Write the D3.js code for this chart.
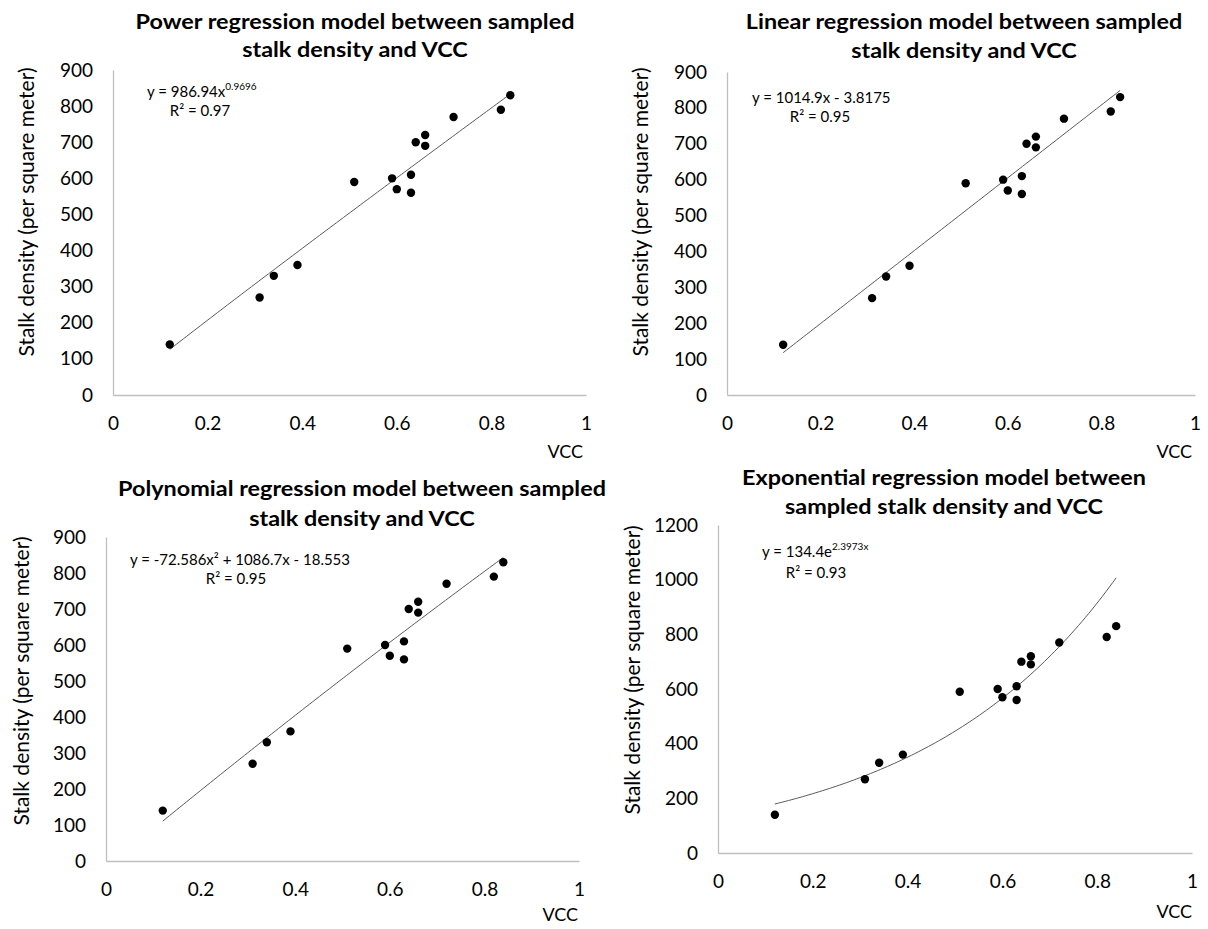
<!DOCTYPE html>
<html>
<head>
<meta charset="utf-8">
<script src="https://cdn.jsdelivr.net/npm/d3@7"></script>
<style>
  body { margin: 0; background: #ffffff; }
  svg text { font-family: Lato, "Open Sans", sans-serif; fill: #000; }
</style>
</head>
<body>
<svg id="chart" width="1208" height="929"></svg>
<script>
// Sampled plots: vegetation canopy cover (VCC) vs. stalk density
const vcc     = [0.12, 0.31, 0.34, 0.39, 0.51, 0.59, 0.60, 0.63, 0.63, 0.64, 0.66, 0.66, 0.72, 0.82, 0.84];
const density = [140,  270,  330,  360,  590,  600,  570,  610,  560,  700,  720,  690,  770,  790,  830];

// Axis ticks
const xTicks      = [0, 0.2, 0.4, 0.6, 0.8, 1];
const yTicks900   = [0, 100, 200, 300, 400, 500, 600, 700, 800, 900];
const yTicks1200  = [0, 200, 400, 600, 800, 1000, 1200];

// Fitted model coefficients
const powerFit  = { a: 986.94, b: 0.9696, r2: "0.97" };              // y = a x^b
const linearFit = { a: 1014.9, b: -3.8175, r2: "0.95" };             // y = a x + b
const polyFit   = { a: -72.586, b: 1086.7, c: -18.553, r2: "0.95" }; // y = a x^2 + b x + c
const expFit    = { a: 134.4, b: 2.3973, r2: "0.93" };               // y = a e^(b x)

// Chart titles
const titlePower  = ["Power regression model between sampled", "stalk density and VCC"];
const titleLinear = ["Linear regression model between sampled", "stalk density and VCC"];
const titlePoly   = ["Polynomial regression model between sampled", "stalk density and VCC"];
const titleExp    = ["Exponential regression model between", "sampled stalk density and VCC"];

const yAxisTitle = "Stalk density (per square meter)";
const xAxisTitle = "VCC";

// Titles are set a little wide, like condensed bold type stretched across the panel
const TITLE_STRETCH = 1.17;

const svg = d3.select("#chart");

// Panel layout: plot area box and placement of the titles and labels
const panels = [
  {
    title: titlePower, yTicks: yTicks900,
    box: { left: 113, right: 586, top: 70, bottom: 395 },
    titleX: 355, titleY: [29, 57],
    yLab: [27, 212], xLab: [583, 458],
    eq: [147, 97], r2: [200, 116],
    model: x => powerFit.a * Math.pow(x, powerFit.b),
    equation: g => {
      g.append("tspan").text("y = 986.94x");
      g.append("tspan").attr("font-size", 10).attr("dy", -7).text("0.9696");
    },
    r2Text: powerFit.r2
  },
  {
    title: titleLinear, yTicks: yTicks900,
    box: { left: 727, right: 1195, top: 72, bottom: 395 },
    titleX: 964, titleY: [29, 58],
    yLab: [641, 212], xLab: [1192, 458],
    eq: [752, 103], r2: [820, 122],
    model: x => linearFit.a * x + linearFit.b,
    equation: g => g.append("tspan").text("y = 1014.9x - 3.8175"),
    r2Text: linearFit.r2
  },
  {
    title: titlePoly, yTicks: yTicks900,
    box: { left: 106, right: 579, top: 537, bottom: 861 },
    titleX: 362, titleY: [496, 526],
    yLab: [22, 681], xLab: [578, 921],
    eq: [130, 565], r2: [236, 584],
    model: x => polyFit.a * x * x + polyFit.b * x + polyFit.c,
    equation: g => g.append("tspan").text("y = -72.586x² + 1086.7x - 18.553"),
    r2Text: polyFit.r2
  },
  {
    title: titleExp, yTicks: yTicks1200,
    box: { left: 718, right: 1192, top: 525, bottom: 853 },
    titleX: 944, titleY: [485, 514],
    yLab: [633, 670], xLab: [1192, 918],
    eq: [762, 557], r2: [816, 578],
    model: x => expFit.a * Math.exp(expFit.b * x),
    equation: g => {
      g.append("tspan").text("y = 134.4e");
      g.append("tspan").attr("font-size", 10).attr("dy", -7).text("2.3973x");
    },
    r2Text: expFit.r2
  }
];

panels.forEach(p => {
  const yMax = d3.max(p.yTicks);
  const x = d3.scaleLinear().domain([0, 1]).range([p.box.left, p.box.right]);
  const y = d3.scaleLinear().domain([0, yMax]).range([p.box.bottom, p.box.top]);
  const g = svg.append("g");

  // Title: two centred bold lines
  p.title.forEach((line, i) => {
    const t = g.append("text")
      .attr("x", p.titleX).attr("y", p.titleY[i])
      .attr("text-anchor", "middle")
      .attr("font-weight", "bold")
      .attr("font-size", 20)
      .text(line);
    const w = t.node().getComputedTextLength();
    t.attr("textLength", w * TITLE_STRETCH).attr("lengthAdjust", "spacingAndGlyphs");
  });

  // Axes: light grey baselines, labels only (no tick marks)
  const xAxis = g.append("g")
    .attr("transform", `translate(0,${p.box.bottom})`)
    .call(d3.axisBottom(x).tickValues(xTicks).tickFormat(d3.format("~g"))
      .tickSize(0).tickSizeOuter(0).tickPadding(22));
  const yAxis = g.append("g")
    .attr("transform", `translate(${p.box.left},0)`)
    .call(d3.axisLeft(y).tickValues(p.yTicks).tickFormat(d3.format("~g"))
      .tickSize(0).tickSizeOuter(0).tickPadding(20));
  [xAxis, yAxis].forEach(a => {
    a.select(".domain").attr("stroke", "#bfbfbf").attr("stroke-width", 1.3);
    a.selectAll("text").attr("font-size", 19).attr("fill", "#000")
      .attr("font-family", "Lato, 'Open Sans', sans-serif");
  });

  // Axis titles
  g.append("text")
    .attr("transform", `translate(${p.yLab[0]},${p.yLab[1]}) rotate(-90)`)
    .attr("text-anchor", "middle")
    .attr("dy", "0.35em")
    .attr("font-size", 21)
    .text(yAxisTitle);
  g.append("text")
    .attr("x", p.xLab[0]).attr("y", p.xLab[1])
    .attr("text-anchor", "end")
    .attr("font-size", 18)
    .text(xAxisTitle);

  // Fitted curve across the sampled VCC range
  const [x0, x1] = d3.extent(vcc);
  const curveX = d3.range(0, 101).map(i => x0 + (x1 - x0) * i / 100);
  g.append("path")
    .datum(curveX)
    .attr("fill", "none")
    .attr("stroke", "#595959")
    .attr("stroke-width", 1)
    .attr("d", d3.line().x(d => x(d)).y(d => y(p.model(d))));

  // Sample points
  g.selectAll("circle")
    .data(d3.zip(vcc, density))
    .join("circle")
    .attr("cx", d => x(d[0]))
    .attr("cy", d => y(d[1]))
    .attr("r", 4.2)
    .attr("fill", "#000");

  // Equation and R²
  const eq = g.append("text")
    .attr("x", p.eq[0]).attr("y", p.eq[1])
    .attr("font-size", 15);
  p.equation(eq);
  g.append("text")
    .attr("x", p.r2[0]).attr("y", p.r2[1])
    .attr("text-anchor", "middle")
    .attr("font-size", 15)
    .text("R² = " + p.r2Text);
});
</script>
</body>
</html>
